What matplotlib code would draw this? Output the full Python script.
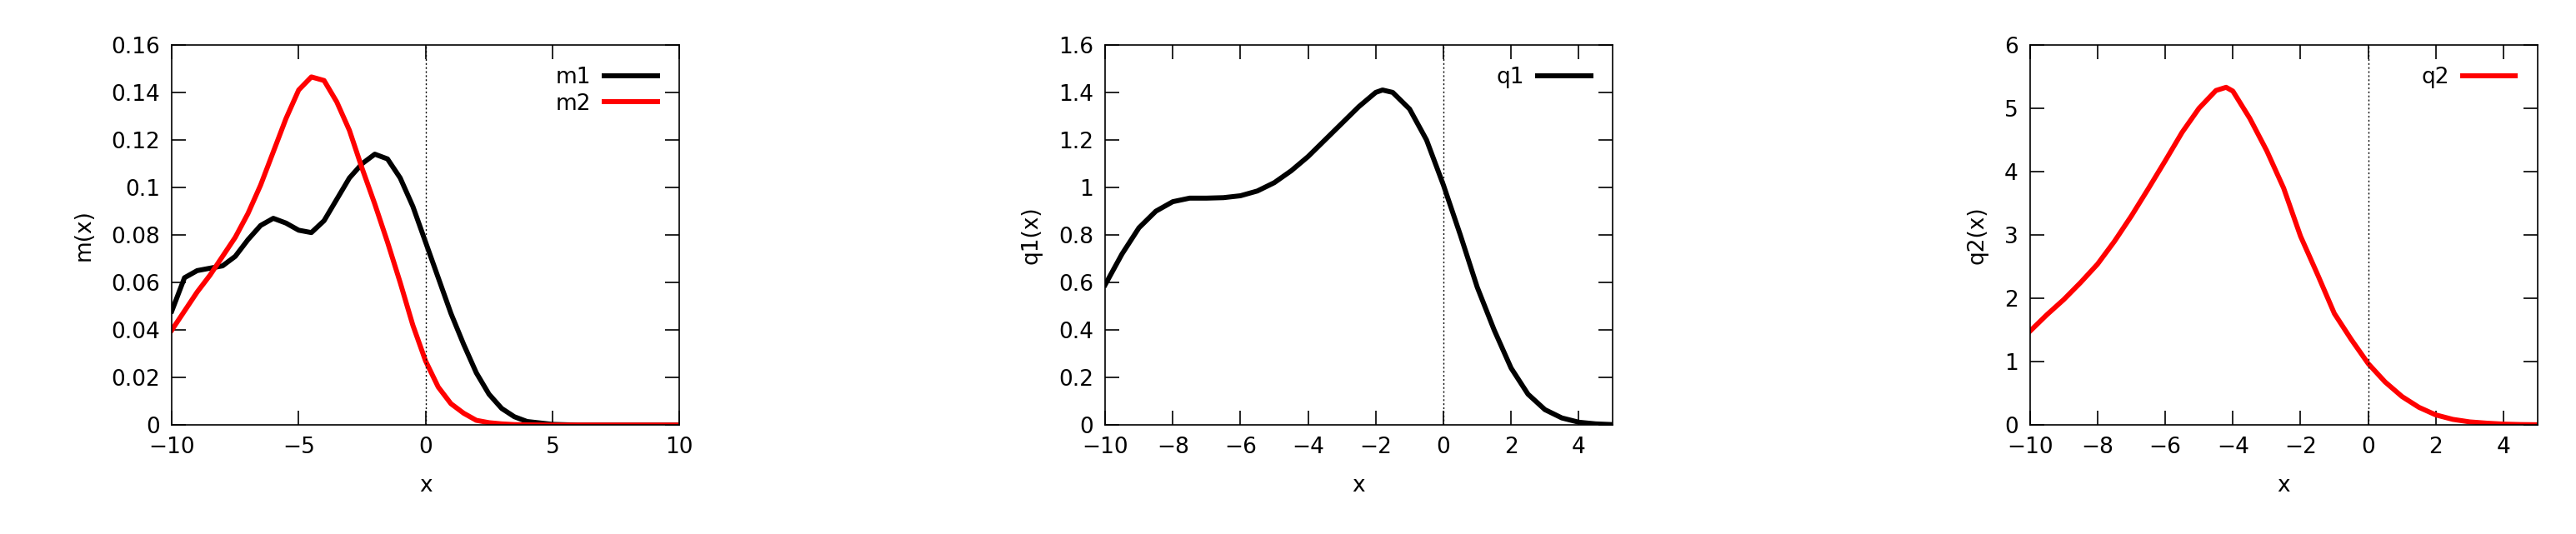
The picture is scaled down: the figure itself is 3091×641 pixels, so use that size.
import numpy as np
import matplotlib
matplotlib.use("Agg")
import matplotlib.pyplot as plt

plt.rcParams['font.family'] = ['Liberation Sans Narrow', 'DejaVu Sans']

x1 = [-10, -9.5, -9, -8.5, -8, -7.5, -7, -6.5, -6, -5.5, -5, -4.5, -4, -3.5, -3, -2.5, -2, -1.5, -1, -0.5,
      0, 0.5, 1, 1.5, 2, 2.5, 3, 3.5, 4, 5, 6, 7, 8, 9, 10]
m1 = [0.048, 0.062, 0.065, 0.066, 0.067, 0.071, 0.078, 0.084, 0.087, 0.085, 0.082, 0.081, 0.086, 0.095, 0.104,
      0.110, 0.114, 0.112, 0.104, 0.092, 0.077, 0.062, 0.047, 0.034, 0.022, 0.013, 0.007, 0.0035, 0.0015,
      0.0003, 0, 0, 0, 0, 0]
m2 = [0.040, 0.048, 0.056, 0.063, 0.071, 0.079, 0.089, 0.101, 0.115, 0.129, 0.141, 0.1465, 0.145, 0.136, 0.124,
      0.108, 0.093, 0.077, 0.060, 0.042, 0.027, 0.016, 0.009, 0.005, 0.002, 0.001, 0.0005, 0.0002, 0.0001,
      0, 0, 0, 0, 0, 0]

x2 = [-10, -9.5, -9, -8.5, -8, -7.5, -7, -6.5, -6, -5.5, -5, -4.5, -4, -3.5, -3, -2.5, -2, -1.8, -1.5, -1, -0.5,
      0, 0.5, 1, 1.5, 2, 2.5, 3, 3.5, 4, 4.5, 5]
q1 = [0.59, 0.72, 0.83, 0.90, 0.94, 0.955, 0.955, 0.957, 0.965, 0.985, 1.02, 1.07, 1.13, 1.20, 1.27, 1.34, 1.40,
      1.41, 1.40, 1.33, 1.20, 1.01, 0.80, 0.58, 0.40, 0.24, 0.13, 0.065, 0.03, 0.012, 0.005, 0.002]

x3 = [-10, -9.5, -9, -8.5, -8, -7.5, -7, -6.5, -6, -5.5, -5, -4.5, -4.2, -4, -3.5, -3, -2.5, -2, -1.5, -1, -0.5,
      0, 0.5, 1, 1.5, 2, 2.5, 3, 3.5, 4, 4.5, 5]
q2 = [1.48, 1.74, 1.98, 2.25, 2.54, 2.90, 3.30, 3.73, 4.17, 4.62, 5.00, 5.28, 5.33, 5.27, 4.84, 4.33, 3.74, 2.98,
      2.38, 1.76, 1.35, 0.97, 0.68, 0.45, 0.28, 0.16, 0.09, 0.05, 0.03, 0.015, 0.008, 0.005]

W, H = 3091, 641
fig = plt.figure(figsize=(W / 100, H / 100), dpi=100)
bottom, height, width = 0.204, 0.712, 0.197
lefts = [0.0667, 0.429, 0.788]
lw = 4.3
fs = 19

def style(ax, xlim, ylim, xt, yt, ylabel):
    ax.set_xlim(*xlim); ax.set_ylim(*ylim)
    ax.set_xticks(xt); ax.set_yticks(yt)
    ax.set_yticklabels([('%g' % v) for v in yt])
    ax.tick_params(direction='in', top=True, right=True, length=12, width=1.2, labelsize=fs, pad=10)
    ax.set_xlabel('x', fontsize=fs, labelpad=14)
    ax.set_ylabel(ylabel, fontsize=fs, labelpad=14)
    ax.axvline(0, color='black', lw=1, ls=(0, (1.5, 2)))
    for s in ax.spines.values():
        s.set_linewidth(1.2)
    leg = ax.legend(loc='upper right', frameon=False, markerfirst=False, fontsize=fs,
                    handlelength=2.4, handletextpad=0.6, borderaxespad=0.6, labelspacing=0.2)

ax1 = fig.add_axes([lefts[0], bottom, width, height])
ax1.plot(x1, m1, color='black', lw=lw, label='m1', solid_joinstyle='round')
ax1.plot(x1, m2, color='red', lw=lw, label='m2', solid_joinstyle='round')
style(ax1, (-10, 10), (0, 0.16), [-10, -5, 0, 5, 10], [0, 0.02, 0.04, 0.06, 0.08, 0.1, 0.12, 0.14, 0.16], 'm(x)')

ax2 = fig.add_axes([lefts[1], bottom, width, height])
ax2.plot(x2, q1, color='black', lw=lw, label='q1', solid_joinstyle='round')
style(ax2, (-10, 5), (0, 1.6), [-10, -8, -6, -4, -2, 0, 2, 4], [0, 0.2, 0.4, 0.6, 0.8, 1, 1.2, 1.4, 1.6], 'q1(x)')

ax3 = fig.add_axes([lefts[2], bottom, width, height])
ax3.plot(x3, q2, color='red', lw=lw, label='q2', solid_joinstyle='round')
style(ax3, (-10, 5), (0, 6), [-10, -8, -6, -4, -2, 0, 2, 4], [0, 1, 2, 3, 4, 5, 6], 'q2(x)')

fig.savefig('out.png', dpi=100)
